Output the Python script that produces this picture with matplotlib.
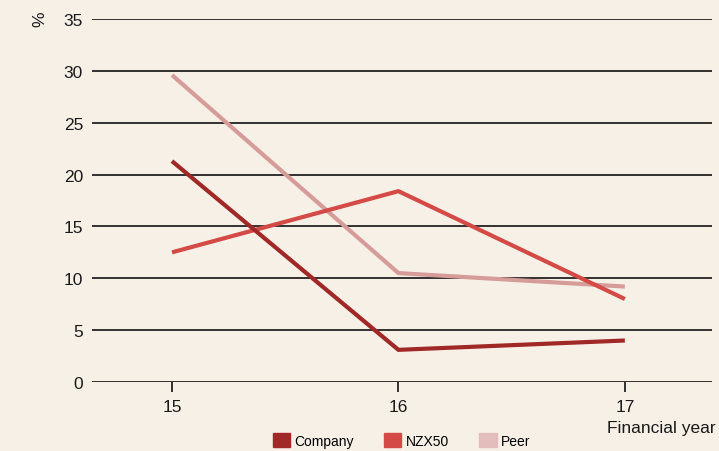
import matplotlib.pyplot as plt
from matplotlib.patches import Patch

plt.rcParams['font.family'] = ['Liberation Sans', 'DejaVu Sans']

years = [15, 16, 17]
year_labels = ['15', '16', '17']
company = [21.3, 3.1, 4.0]
nzx50 = [12.5, 18.4, 8.0]
peer = [29.6, 10.5, 9.2]
y_ticks = [0, 5, 10, 15, 20, 25, 30, 35]

bg = '#f7f0e7'
c_company = '#a02826'
c_nzx = '#d44a46'
c_peer = '#d69c9a'
c_peer_patch = '#e3bdbc'
ink = '#1a1a1a'

fig = plt.figure(figsize=(7.19, 4.52), dpi=100, facecolor=bg)
ax = fig.add_axes([0.128, 0.1527, 0.862, 0.803], facecolor=bg)

# horizontal rules at every tick
for v in y_ticks:
    ax.axhline(v, color='#111111', lw=1.2, zorder=1)

ax.plot(years, peer, color=c_peer, lw=3, solid_capstyle='butt', zorder=3)
ax.plot(years, nzx50, color=c_nzx, lw=3, solid_capstyle='butt', zorder=3)
ax.plot(years, company, color=c_company, lw=3, solid_capstyle='butt', zorder=4)

ax.set_xlim(14.647, 17.384)
ax.set_ylim(0, 35)
ax.set_xticks(years)
ax.set_xticklabels(year_labels)
ax.set_yticks(y_ticks)
for s in ax.spines.values():
    s.set_visible(False)
ax.tick_params(axis='y', length=0, pad=6.5, labelsize=12.5, labelcolor=ink)
ax.tick_params(axis='x', length=7, width=1.2, color='#111111', pad=5,
               labelsize=12.5, labelcolor=ink)

fig.text(0.056, 0.957, '%', rotation=90, fontsize=12.5, color=ink,
         ha='center', va='center')
fig.text(0.995, 0.053, 'Financial year', fontsize=12.5, color=ink,
         ha='right', va='center')

handles = [Patch(color=c_company, label='Company'),
           Patch(color=c_nzx, label='NZX50'),
           Patch(color=c_peer_patch, label='Peer')]
fig.legend(handles=handles, loc='center left', bbox_to_anchor=(0.379, 0.024),
           ncol=3, frameon=False, fontsize=10, handlelength=1.25,
           handleheight=1.25, handletextpad=0.3, columnspacing=2.2,
           borderaxespad=0, borderpad=0)

fig.savefig('out.png', dpi=100, facecolor=bg)
